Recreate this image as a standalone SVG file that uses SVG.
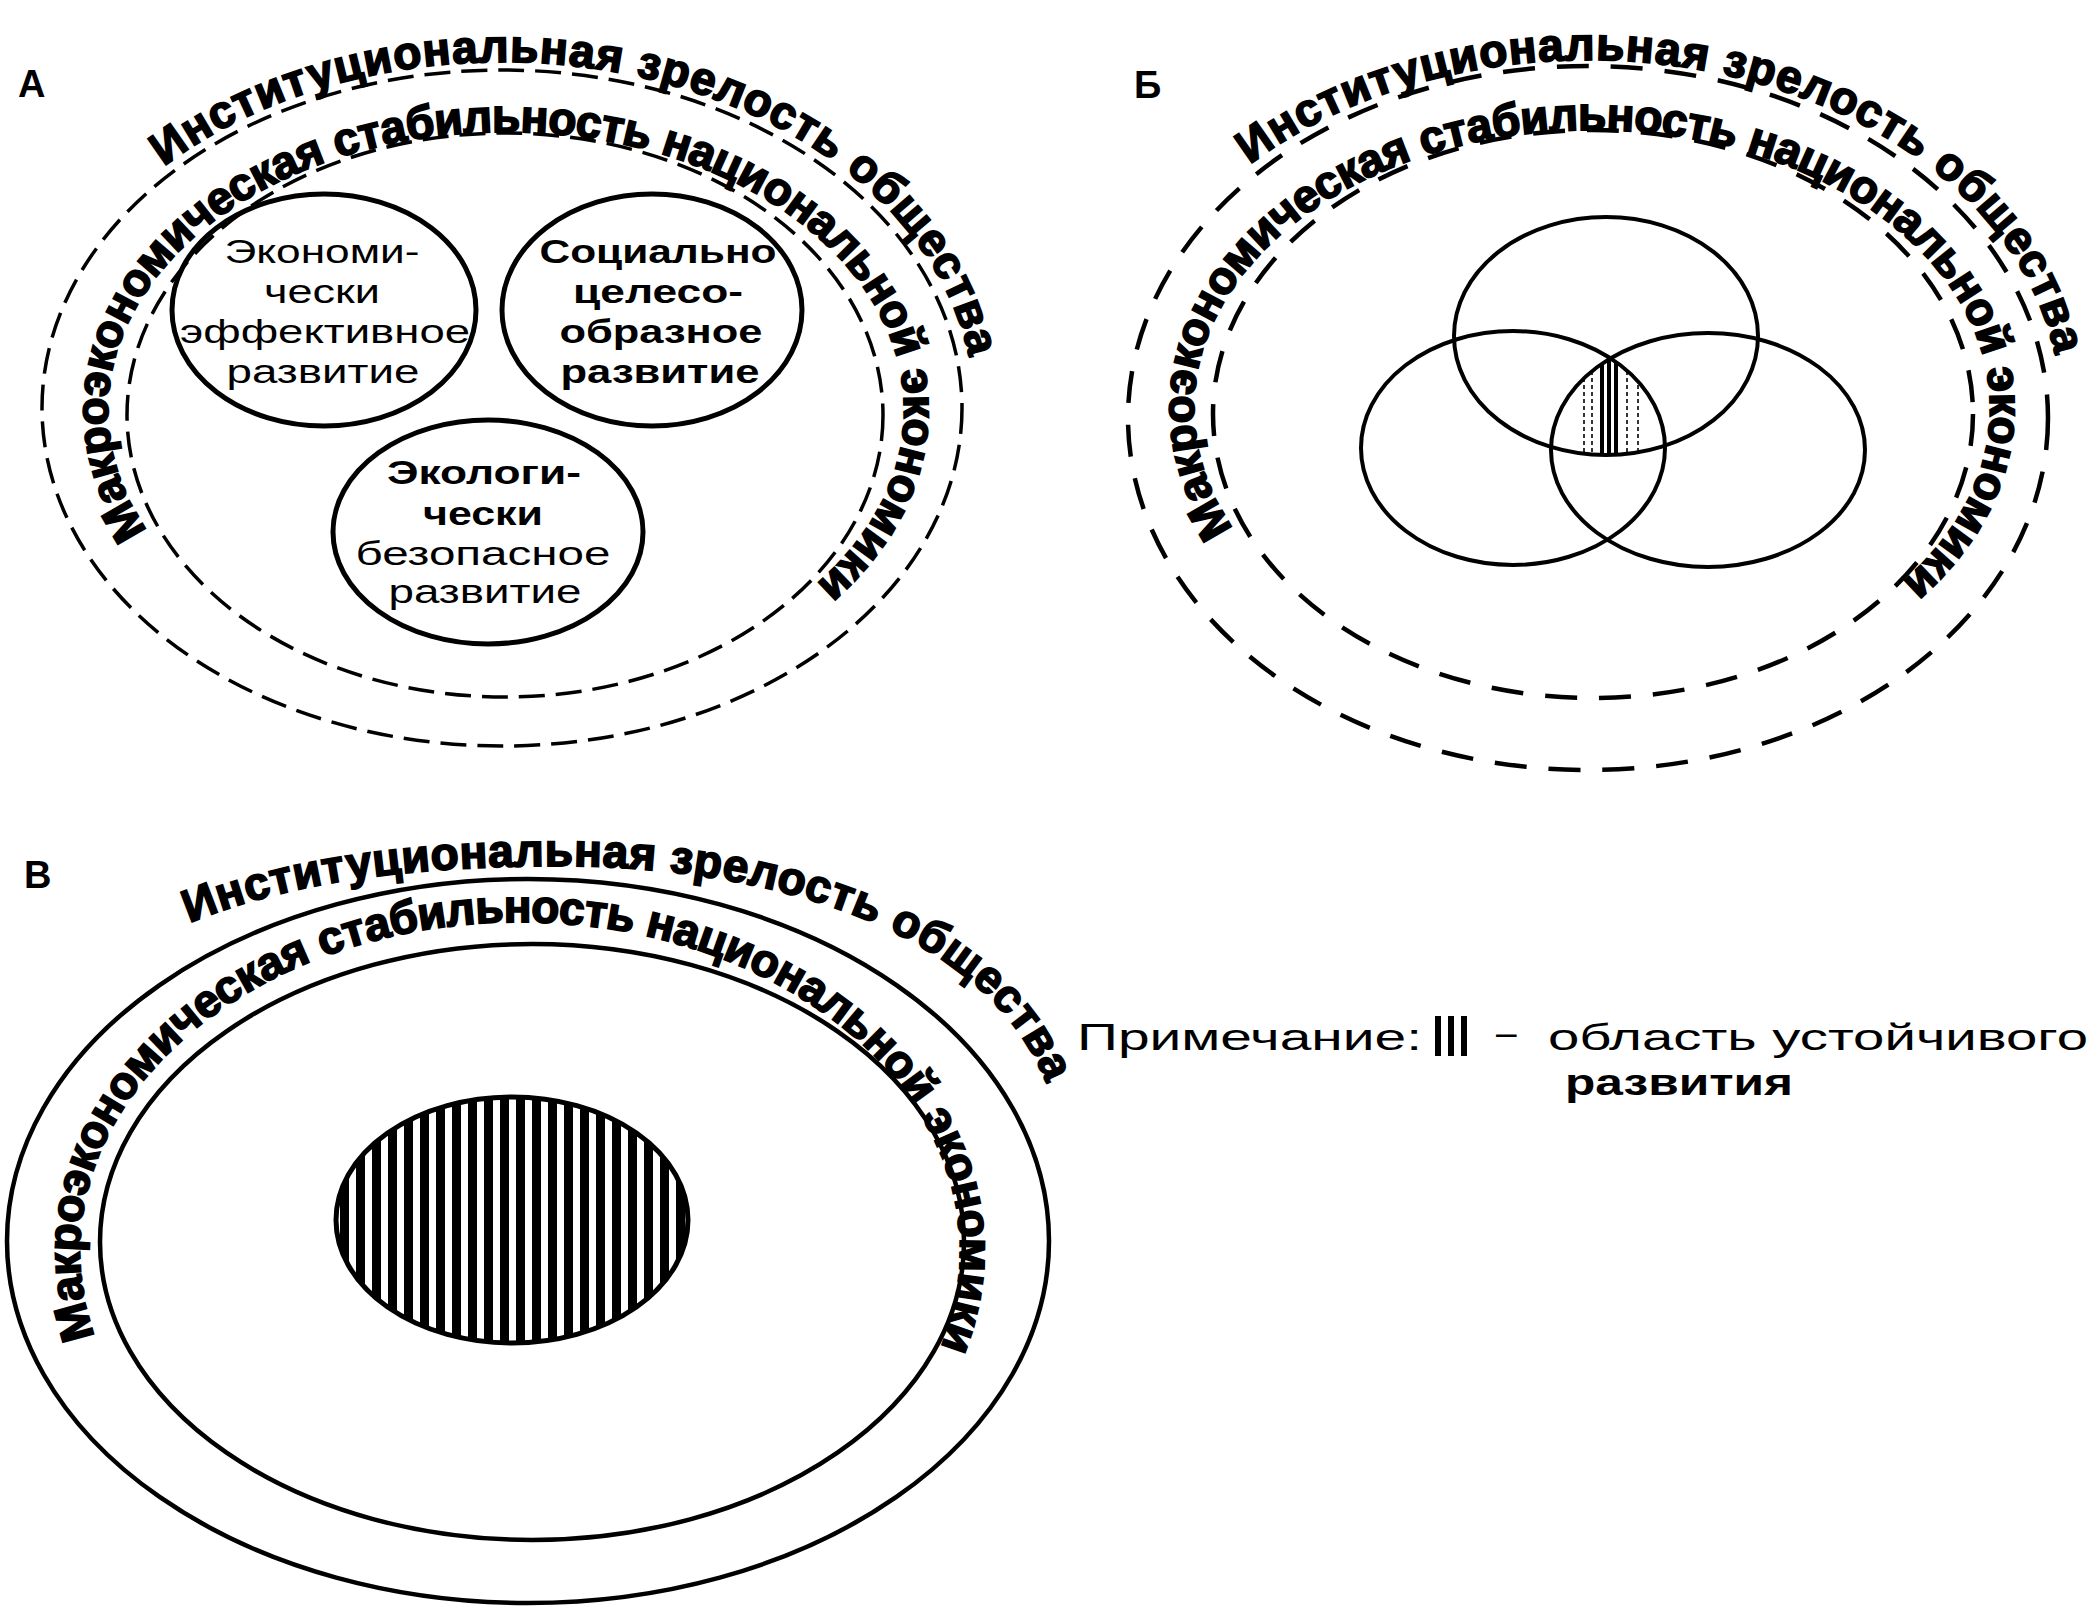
<svg xmlns="http://www.w3.org/2000/svg" width="2098" height="1606" viewBox="0 0 2098 1606">
<defs>
<style>
.ring-a{fill:none;stroke:#000;stroke-width:3.5;stroke-dasharray:26 11}
.ring-b{fill:none;stroke:#000;stroke-width:4.5;stroke-dasharray:32 22}
.ring-v{fill:none;stroke:#000;stroke-width:4.5}
.circ{fill:none;stroke:#000;stroke-width:5}
.circ-b{fill:none;stroke:#000;stroke-width:4}
.ringtxt{font-family:"Liberation Sans",Arial,sans-serif;font-weight:700;font-size:46px;fill:#000;stroke:#000;stroke-width:1.8}
.lbl{font-family:"Liberation Sans",Arial,sans-serif;font-size:33px;fill:#000}
.bold{font-weight:700}
.letter{font-family:"Liberation Sans",Arial,sans-serif;font-weight:700;font-size:38px;fill:#000}
.note{font-family:"Liberation Sans",Arial,sans-serif;font-size:37px;fill:#000}
.hl{stroke:#000;stroke-width:4}
.hd{stroke:#000;stroke-width:1.6;stroke-dasharray:4 3}
</style>
<path id="pA1" d="M 156.8 172 A 472 346 0 0 1 970.5 365.8"/>
<path id="pA2" d="M 151.4 536.2 A 398 278 0 1 1 810.9 588.7"/>
<path id="pV1" d="M 185 925 C 290 880, 420 866, 560 866 C 770 866, 990 930, 1048 1088"/>
<path id="pV2" d="M 97 1341.7 A 440 329 0 1 1 938.5 1352.7"/>
<pattern id="vhatch" patternUnits="userSpaceOnUse" x="340" y="0" width="16" height="20"><rect width="9" height="20" fill="#000"/></pattern>
<clipPath id="cTop"><ellipse cx="1606" cy="336" rx="152" ry="119"/></clipPath>
<clipPath id="cLeft"><ellipse cx="1513" cy="448" rx="152" ry="117"/></clipPath>
<clipPath id="cRight"><ellipse cx="1708" cy="450" rx="157" ry="117"/></clipPath>
</defs>

<!-- Panel A -->
<g id="panel-a">
  <text class="letter" x="18" y="97">А</text>
  <g id="a-rings">
    <ellipse class="ring-a" cx="502" cy="408" rx="460" ry="338"/>
    <ellipse class="ring-a" cx="505" cy="415" rx="378" ry="282"/>
  </g>
  <text class="ringtxt" text-anchor="middle"><textPath href="#pA1" startOffset="50%" textLength="955" lengthAdjust="spacing">Институциональная зрелость общества</textPath></text>
  <text class="ringtxt" text-anchor="middle"><textPath href="#pA2" startOffset="50%" textLength="1400" lengthAdjust="spacing">Макроэкономическая стабильность национальной экономики</textPath></text>
  <g id="a-econ">
    <ellipse class="circ" cx="324" cy="310" rx="152" ry="116"/>
    <text class="lbl" text-anchor="middle" x="322" y="263" textLength="195" lengthAdjust="spacingAndGlyphs">Экономи-</text>
    <text class="lbl" text-anchor="middle" x="322" y="303" textLength="116" lengthAdjust="spacingAndGlyphs">чески</text>
    <text class="lbl" text-anchor="middle" x="325" y="343" textLength="290" lengthAdjust="spacingAndGlyphs">эффективное</text>
    <text class="lbl" text-anchor="middle" x="323" y="383" textLength="193" lengthAdjust="spacingAndGlyphs">развитие</text>
  </g>
  <g id="a-social">
    <ellipse class="circ" cx="652" cy="310" rx="150" ry="116"/>
    <text class="lbl bold" text-anchor="middle" x="658" y="263" textLength="237" lengthAdjust="spacingAndGlyphs">Социально</text>
    <text class="lbl bold" text-anchor="middle" x="658" y="303" textLength="170" lengthAdjust="spacingAndGlyphs">целесо-</text>
    <text class="lbl bold" text-anchor="middle" x="661" y="343" textLength="203" lengthAdjust="spacingAndGlyphs">образное</text>
    <text class="lbl bold" text-anchor="middle" x="660" y="383" textLength="199" lengthAdjust="spacingAndGlyphs">развитие</text>
  </g>
  <g id="a-eco">
    <ellipse class="circ" cx="488" cy="532" rx="155" ry="112"/>
    <text class="lbl bold" text-anchor="middle" x="484" y="484" textLength="194" lengthAdjust="spacingAndGlyphs">Экологи-</text>
    <text class="lbl bold" text-anchor="middle" x="483" y="525" textLength="120" lengthAdjust="spacingAndGlyphs">чески</text>
    <text class="lbl" text-anchor="middle" x="483" y="565" textLength="255" lengthAdjust="spacingAndGlyphs">безопасное</text>
    <text class="lbl" text-anchor="middle" x="485" y="603" textLength="193" lengthAdjust="spacingAndGlyphs">развитие</text>
  </g>
</g>

<!-- Panel B -->
<g id="panel-b">
  <text class="letter" x="1134" y="98">Б</text>
  <g id="b-rings" transform="translate(1086,-2)">
    <ellipse class="ring-b" cx="502" cy="420" rx="460" ry="352"/>
    <ellipse class="ring-b" cx="507" cy="416" rx="380" ry="284"/>
    <text class="ringtxt" text-anchor="middle"><textPath href="#pA1" startOffset="50%" textLength="955" lengthAdjust="spacing">Институциональная зрелость общества</textPath></text>
    <text class="ringtxt" text-anchor="middle"><textPath href="#pA2" startOffset="50%" textLength="1400" lengthAdjust="spacing">Макроэкономическая стабильность национальной экономики</textPath></text>
  </g>
  <g id="b-lens" clip-path="url(#cTop)">
    <g clip-path="url(#cLeft)">
      <g clip-path="url(#cRight)">
        <line class="hd" x1="1584" y1="350" x2="1584" y2="470"/>
        <line class="hd" x1="1592" y1="350" x2="1592" y2="470"/>
        <line class="hl" x1="1602" y1="350" x2="1602" y2="470"/>
        <line class="hl" x1="1609" y1="350" x2="1609" y2="470"/>
        <line class="hl" x1="1616" y1="350" x2="1616" y2="470"/>
        <line class="hd" x1="1627" y1="350" x2="1627" y2="470"/>
        <line class="hd" x1="1638" y1="350" x2="1638" y2="470"/>
      </g>
    </g>
  </g>
  <g id="b-top"><ellipse class="circ-b" cx="1606" cy="336" rx="152" ry="119"/></g>
  <g id="b-left"><ellipse class="circ-b" cx="1513" cy="448" rx="152" ry="117"/></g>
  <g id="b-right"><ellipse class="circ-b" cx="1708" cy="450" rx="157" ry="117"/></g>
</g>

<!-- Panel V -->
<g id="panel-v">
  <text class="letter" x="24" y="888">В</text>
  <g id="v-rings">
    <ellipse class="ring-v" cx="528" cy="1241" rx="521" ry="362"/>
    <ellipse class="ring-v" cx="532" cy="1242" rx="432" ry="298"/>
  </g>
  <text class="ringtxt" text-anchor="middle"><textPath href="#pV1" startOffset="50%" textLength="940" lengthAdjust="spacing">Институциональная зрелость общества</textPath></text>
  <text class="ringtxt" text-anchor="middle"><textPath href="#pV2" startOffset="50%" textLength="1400" lengthAdjust="spacing">Макроэкономическая стабильность национальной экономики</textPath></text>
  <g id="v-core">
    <ellipse cx="512" cy="1220" rx="176" ry="123" fill="url(#vhatch)" stroke="#000" stroke-width="5"/>
  </g>
</g>

<!-- Note -->
<g id="note">
  <text class="note" x="1077" y="1050" textLength="345" lengthAdjust="spacingAndGlyphs">Примечание:</text>
  <g id="note-hatch">
    <line x1="1438" y1="1016" x2="1438" y2="1056" stroke="#000" stroke-width="6"/>
    <line x1="1451" y1="1016" x2="1451" y2="1056" stroke="#000" stroke-width="6"/>
    <line x1="1464" y1="1016" x2="1464" y2="1056" stroke="#000" stroke-width="6"/>
  </g>
  <text class="note" x="1496" y="1045" fill="#444">–</text>
  <text class="note" x="1548" y="1050" textLength="540" lengthAdjust="spacingAndGlyphs">область устойчивого</text>
  <text class="note bold" x="1565" y="1095" textLength="228" lengthAdjust="spacingAndGlyphs">развития</text>
</g>
</svg>
